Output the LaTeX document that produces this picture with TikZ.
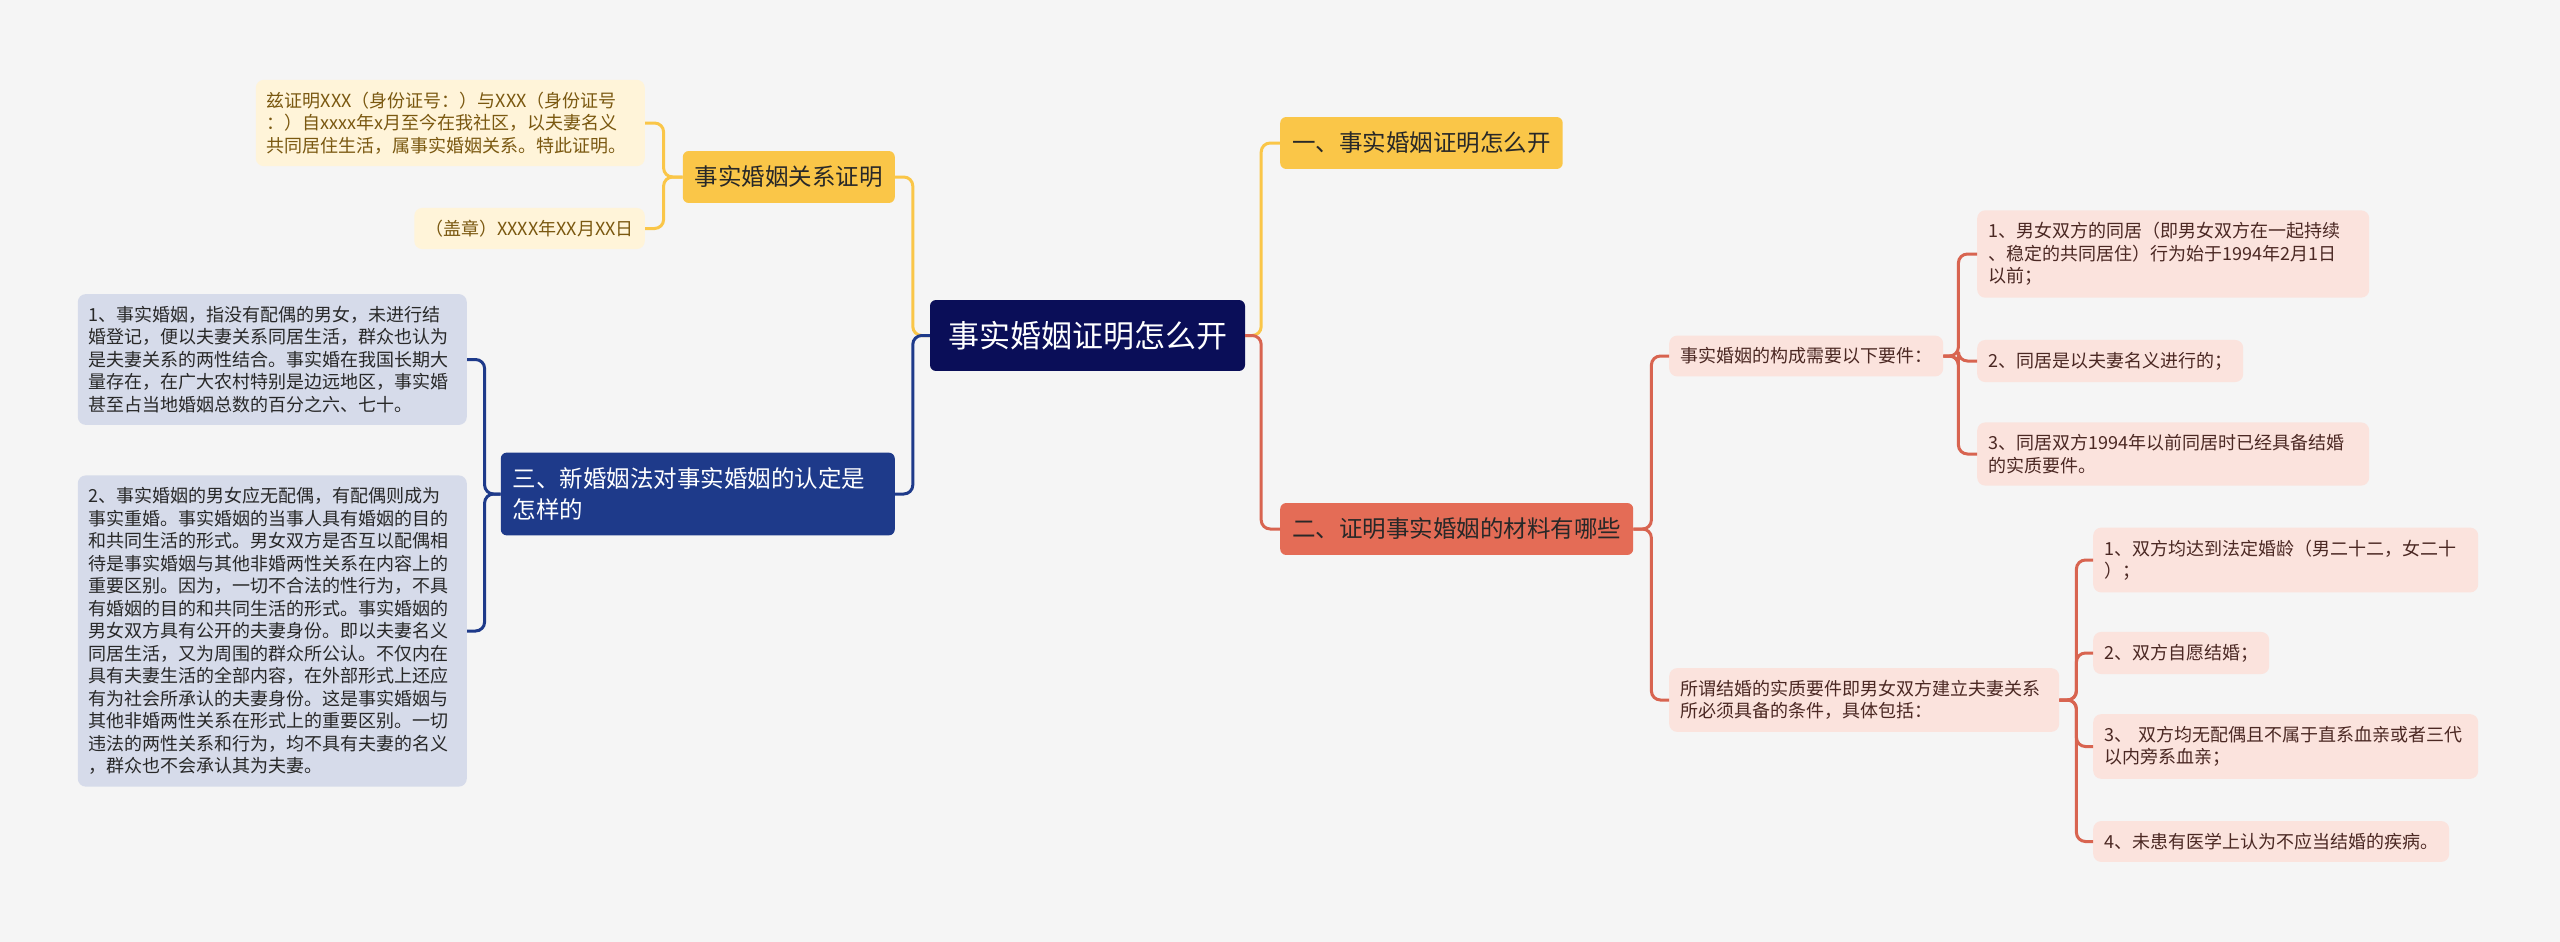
\documentclass[tikz,border=0pt]{standalone}
\usepackage{fontspec}
\setmainfont{Noto Sans CJK SC}
\usepackage{tikz}
\usetikzlibrary{positioning}
\usepackage{xcolor}
\definecolor{cBack}{RGB}{245,245,245}
\definecolor{cNavy}{RGB}{10,14,88}
\definecolor{cGold}{RGB}{250,198,72}
\definecolor{cGoldBg}{RGB}{255,244,217}
\definecolor{cGoldTx}{RGB}{122,88,16}
\definecolor{cBlue}{RGB}{30,58,138}
\definecolor{cBlueBg}{RGB}{214,219,234}
\definecolor{cCoral}{RGB}{228,108,86}
\definecolor{cCoralLn}{RGB}{216,100,80}
\definecolor{cCoralBg}{RGB}{251,227,221}
\definecolor{cCoralTx}{RGB}{75,40,35}
\definecolor{cInk}{RGB}{40,40,40}
\tikzset{
	mroot/.style={fill=cNavy, rounded corners=6pt, text=white,
		inner xsep=18pt, inner ysep=21pt,
		font=\fontsize{31pt}{36pt}\selectfont},
	mtop/.style={rounded corners=6pt, text=cInk, align=left,
		inner xsep=12pt, inner ysep=15pt,
		font=\fontsize{23.5pt}{31pt}\selectfont},
	mleaf/.style={rounded corners=8pt, align=left,
		inner xsep=11pt, inner ysep=12pt,
		font=\fontsize{18pt}{22.5pt}\selectfont},
	mgleaf/.style={mleaf, fill=cGoldBg, text=cGoldTx},
	mbleaf/.style={mleaf, fill=cBlueBg, text=cInk},
	mcleaf/.style={mleaf, fill=cCoralBg, text=cCoralTx},
	mlink/.style={draw=#1, line width=3pt, rounded corners=9pt},
}
\begin{document}
\begin{tikzpicture}[x=1pt,y=-1pt]
	\fill[cBack] (0,0) rectangle (2560,942);
	\node[mroot] (root) at (1087.5,335.5) {事实婚姻证明怎么开};
	\node[mtop, fill=cGold, anchor=east] (certY) at (895,177) {事实婚姻关系证明};
	\node[mgleaf, anchor=east, text width=367pt] (certText) at (645,123)
		{兹证明XXX（身份证号：）与XXX（身份证号\\：）自xxxx年x月至今在我社区，以夫妻名义\\共同居住生活，属事实婚姻关系。特此证明。};
	\node[mgleaf, anchor=east] (certSeal) at (645,228.5) {（盖章）XXXX年XX月XX日};
	\node[mtop, fill=cBlue, text=white, anchor=east, text width=370pt] (lawB) at (895,494)
		{三、新婚姻法对事实婚姻的认定是\\怎样的};
	\node[mbleaf, anchor=east, text width=367pt] (lawOne) at (467,359.5)
		{1、事实婚姻，指没有配偶的男女，未进行结\\婚登记，便以夫妻关系同居生活，群众也认为\\是夫妻关系的两性结合。事实婚在我国长期大\\量存在，在广大农村特别是边远地区，事实婚\\甚至占当地婚姻总数的百分之六、七十。};
	\node[mbleaf, anchor=east, text width=367pt] (lawTwo) at (467,631)
		{2、事实婚姻的男女应无配偶，有配偶则成为\\事实重婚。事实婚姻的当事人具有婚姻的目的\\和共同生活的形式。男女双方是否互以配偶相\\待是事实婚姻与其他非婚两性关系在内容上的\\重要区别。因为，一切不合法的性行为，不具\\有婚姻的目的和共同生活的形式。事实婚姻的\\男女双方具有公开的夫妻身份。即以夫妻名义\\同居生活，又为周围的群众所公认。不仅内在\\具有夫妻生活的全部内容，在外部形式上还应\\有为社会所承认的夫妻身份。这是事实婚姻与\\其他非婚两性关系在形式上的重要区别。一切\\违法的两性关系和行为，均不具有夫妻的名义\\，群众也不会承认其为夫妻。};
	\node[mtop, fill=cGold, anchor=west] (howY) at (1280,143) {一、事实婚姻证明怎么开};
	\node[mtop, fill=cCoral, anchor=west] (matR) at (1280,529) {二、证明事实婚姻的材料有哪些};
	\node[mcleaf, anchor=west] (condR) at (1669,356) {事实婚姻的构成需要以下要件：};
	\node[mcleaf, anchor=west, text width=370pt] (cond1) at (1977,254)
		{1、男女双方的同居（即男女双方在一起持续\\、稳定的共同居住）行为始于1994年2月1日\\以前；};
	\node[mcleaf, anchor=west] (cond2) at (1977,361) {2、同居是以夫妻名义进行的；};
	\node[mcleaf, anchor=west, text width=370pt] (cond3) at (1977,454)
		{3、同居双方1994年以前同居时已经具备结婚\\的实质要件。};
	\node[mcleaf, anchor=west, text width=368pt] (essR) at (1669,700)
		{所谓结婚的实质要件即男女双方建立夫妻关系\\所必须具备的条件，具体包括：};
	\node[mcleaf, anchor=west, text width=363pt] (ess1) at (2093,560)
		{1、双方均达到法定婚龄（男二十二，女二十\\）；};
	\node[mcleaf, anchor=west] (ess2) at (2093,653) {2、双方自愿结婚；};
	\node[mcleaf, anchor=west, text width=363pt] (ess3) at (2093,746.5)
		{3、 双方均无配偶且不属于直系血亲或者三代\\以内旁系血亲；};
	\node[mcleaf, anchor=west] (ess4) at (2093,841.5) {4、未患有医学上认为不应当结婚的疾病。};
	\draw[mlink=cGold] (root.west) -- ++(-17,0) |- (certY.east);
	\draw[mlink=cBlue] (root.west) -- ++(-17,0) |- (lawB.east);
	\draw[mlink=cGold] (root.east) -- ++(16,0) |- (howY.west);
	\draw[mlink=cCoralLn] (root.east) -- ++(16,0) |- (matR.west);
	\foreach \k in {certText,certSeal}
		\draw[mlink=cGold] (certY.west) -- ++(-19,0) |- (\k.east);
	\foreach \k in {lawOne,lawTwo}
		\draw[mlink=cBlue] (lawB.west) -- ++(-16,0) |- (\k.east);
	\foreach \k in {condR,essR}
		\draw[mlink=cCoralLn] (matR.east) -- ++(18,0) |- (\k.west);
	\foreach \k in {cond1,cond2,cond3}
		\draw[mlink=cCoralLn] (condR.east) -- ++(15,0) |- (\k.west);
	\foreach \k in {ess1,ess2,ess3,ess4}
		\draw[mlink=cCoralLn] (essR.east) -- ++(17,0) |- (\k.west);
\end{tikzpicture}
\end{document}
